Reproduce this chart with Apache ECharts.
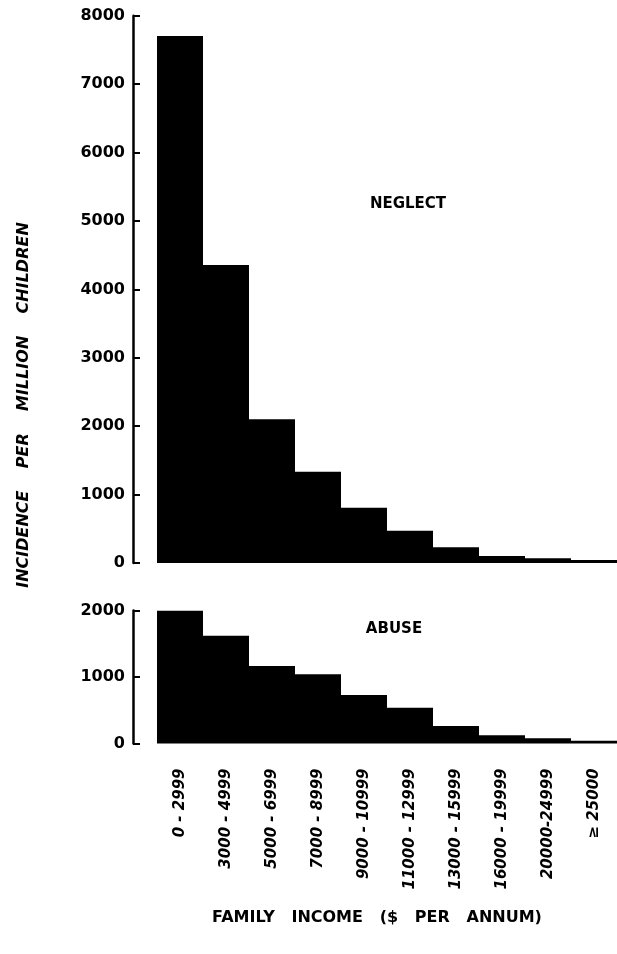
<!DOCTYPE html>
<html>
<head>
<meta charset="utf-8">
<script src="https://cdn.jsdelivr.net/npm/echarts@6/dist/echarts.min.js"></script>
<style>
html,body{margin:0;padding:0;background:#fff;}
#chart{width:617px;height:954px;}
</style>
</head>
<body>
<div id="chart"></div>
<script>
const categories = ['0 - 2999','3000 - 4999','5000 - 6999','7000 - 8999','9000 - 10999','11000 - 12999','13000 - 15999','16000 - 19999','20000-24999','≥ 25000'];
const neglect = [7705, 4357, 2101, 1335, 808, 472, 230, 102, 69, 44];
const abuse = [1995, 1621, 1165, 1040, 729, 538, 263, 123, 78, 42];
const neglectTicks = {min: 0, max: 8000, interval: 1000};
const abuseTicks = {min: 0, max: 2000, interval: 1000};

const chart = echarts.init(document.getElementById('chart'), null, {renderer: 'canvas'});
const FONT = 'DejaVu Sans';
function yAxis(gridIndex, t) {
  return {
    type: 'value', gridIndex: gridIndex, min: t.min, max: t.max, interval: t.interval,
    offset: 24,
    splitLine: {show: false},
    axisLine: {show: true, lineStyle: {color: '#000', width: 2.5}},
    axisTick: {show: true, inside: true, length: 7, lineStyle: {color: '#000', width: 2}},
    axisLabel: {color: '#000', fontFamily: FONT, fontWeight: 'bold', fontSize: 16, margin: 8,
                formatter: function (v) { return String(v); }}
  };
}
chart.setOption({
  animation: false,
  backgroundColor: '#fff',
  grid: [
    {left: 157, right: 0, top: 15.7, height: 547.3},
    {left: 157, right: 0, top: 610.5, height: 133}
  ],
  xAxis: [
    {type: 'category', gridIndex: 0, data: categories, axisLine: {show: false}, axisTick: {show: false}, axisLabel: {show: false}},
    {type: 'category', gridIndex: 1, data: categories, axisLine: {show: false}, axisTick: {show: false},
     axisLabel: {interval: 0, rotate: 90, margin: 25, color: '#000', fontFamily: FONT, fontWeight: 'bold', fontStyle: 'italic', fontSize: 15}}
  ],
  yAxis: [yAxis(0, neglectTicks), yAxis(1, abuseTicks)],
  series: [
    {type: 'bar', xAxisIndex: 0, yAxisIndex: 0, data: neglect, barCategoryGap: '0%', itemStyle: {color: '#000'}},
    {type: 'bar', xAxisIndex: 1, yAxisIndex: 1, data: abuse, barCategoryGap: '0%', itemStyle: {color: '#000'}}
  ],
  graphic: [
    {type: 'text', x: 408, y: 204, style: {text: 'NEGLECT', fill: '#000', font: 'bold 15px "DejaVu Sans"', textAlign: 'center', textVerticalAlign: 'middle'}},
    {type: 'text', x: 394, y: 629, style: {text: 'ABUSE', fill: '#000', font: 'bold 15px "DejaVu Sans"', textAlign: 'center', textVerticalAlign: 'middle'}},
    {type: 'text', x: 377, y: 918, style: {text: 'FAMILY   INCOME   ($   PER   ANNUM)', fill: '#000', font: 'bold 16px "DejaVu Sans"', textAlign: 'center', textVerticalAlign: 'middle'}},
    {type: 'text', x: 24, y: 405, rotation: Math.PI / 2, style: {text: 'INCIDENCE    PER    MILLION    CHILDREN', fill: '#000', font: 'italic bold 16px "DejaVu Sans"', textAlign: 'center', textVerticalAlign: 'middle'}}
  ]
});
</script>
</body>
</html>
